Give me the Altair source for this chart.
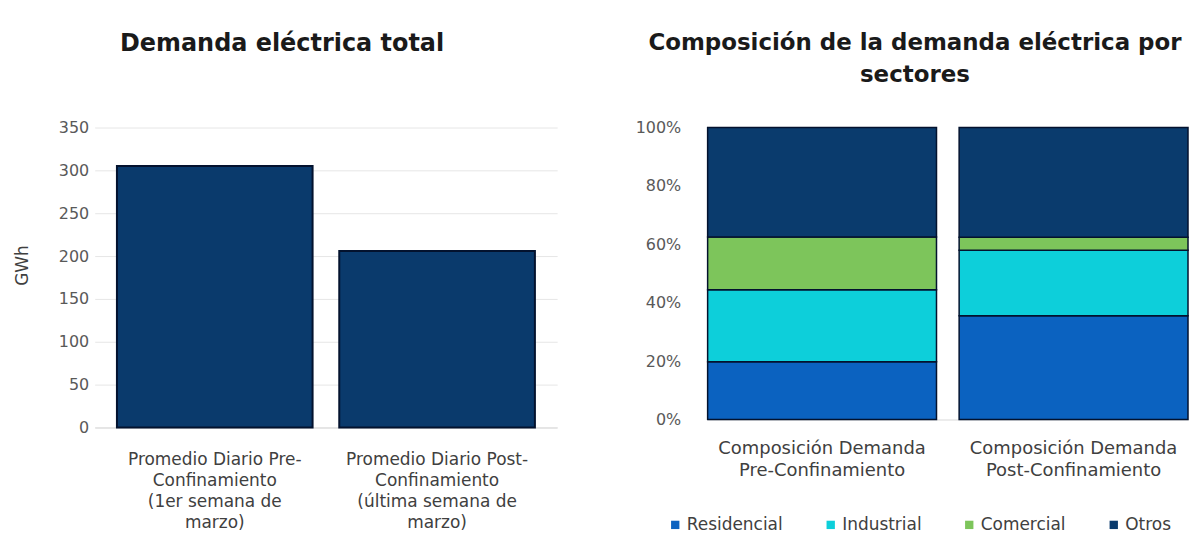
import altair as alt
import pandas as pd

# ---- Data: left panel (total daily demand, GWh) ----
periodos = [
    "Promedio Diario Pre-|Confinamiento|(1er semana de|marzo)",
    "Promedio Diario Post-|Confinamiento|(última semana de|marzo)",
]
demanda_gwh = [305, 206]
gwh_ticks = [0, 50, 100, 150, 200, 250, 300, 350]

# ---- Data: right panel (composition by sector, %) ----
composiciones = [
    "Composición Demanda|Pre-Confinamiento",
    "Composición Demanda|Post-Confinamiento",
]
sectores = ["Residencial", "Industrial", "Comercial", "Otros"]
pre_pct = [19.8, 24.6, 18.1, 37.5]
post_pct = [35.5, 22.5, 4.4, 37.6]
pct_ticks = [0, 0.2, 0.4, 0.6, 0.8, 1.0]
colores = ["#0b62c0", "#0dcfda", "#7dc55b", "#0a3b6d"]

FONT = "DejaVu Sans"

df_left = pd.DataFrame({"periodo": periodos, "gwh": demanda_gwh})

rows = []
for comp, vals in zip(composiciones, [pre_pct, post_pct]):
    for i, (s, v) in enumerate(zip(sectores, vals)):
        rows.append({"composicion": comp, "sector": s, "pct": v, "orden": i})
df_right = pd.DataFrame(rows)

left = alt.Chart(df_left).mark_bar(
    color="#0a3a6c", stroke="#03122e", strokeWidth=2
).encode(
    x=alt.X(
        "periodo:N",
        sort=periodos,
        scale=alt.Scale(paddingInner=0.12, paddingOuter=0.1),
        axis=alt.Axis(
            title=None, labelAngle=0, labelExpr="split(datum.label, '|')",
            labelFontSize=17, labelLineHeight=21, labelPadding=24,
            labelColor="#404040", labelLimit=0, ticks=False, grid=False,
            domainColor="#d9d9d9", labelFont=FONT,
        ),
    ),
    y=alt.Y(
        "gwh:Q",
        scale=alt.Scale(domain=[0, 350]),
        axis=alt.Axis(
            values=gwh_ticks, title="GWh", titleFontSize=17,
            titleFontWeight="normal", titleColor="#404040", titlePadding=27,
            titleY=138, titleFont=FONT, grid=True, gridColor="#e6e6e6",
            domain=False, ticks=False, labelFontSize=16,
            labelColor="#595959", labelPadding=6, labelFont=FONT,
        ),
    ),
).properties(
    width=464, height=301,
    view=alt.ViewBackground(stroke="transparent", strokeWidth=0),
    title=alt.TitleParams(
        "Demanda eléctrica total", fontSize=24, fontWeight="bold",
        color="#1a1a1a", offset=64, anchor="middle", dx=-44, font=FONT,
    ),
)

right = alt.Chart(df_right).mark_bar(stroke="#03122e", strokeWidth=1.5).encode(
    x=alt.X(
        "composicion:N",
        sort=composiciones,
        scale=alt.Scale(paddingInner=0.09, paddingOuter=0),
        axis=alt.Axis(
            title=None, labelAngle=0, labelExpr="split(datum.label, '|')",
            labelFontSize=18, labelLineHeight=22, labelPadding=20,
            labelColor="#404040", labelLimit=0, ticks=False, grid=False,
            domainColor="#d9d9d9", labelFont=FONT,
        ),
    ),
    y=alt.Y(
        "pct:Q",
        stack="normalize",
        scale=alt.Scale(domain=[0, 1]),
        axis=alt.Axis(
            values=pct_ticks, format=".0%", title=None, grid=False,
            domain=False, ticks=False, labelFontSize=16,
            labelColor="#595959", labelPadding=27, labelFont=FONT,
        ),
    ),
    color=alt.Color(
        "sector:N",
        sort=sectores,
        scale=alt.Scale(domain=sectores, range=colores),
        legend=alt.Legend(
            title=None, orient="none", direction="horizontal",
            legendX=-41, legendY=390, symbolType="square", symbolSize=70,
            symbolStrokeWidth=0, labelFontSize=17, labelColor="#404040",
            labelFont=FONT, columnPadding=39, labelOffset=3,
        ),
    ),
    order=alt.Order("orden:Q", sort="ascending"),
).properties(
    width=482, height=293,
    view=alt.ViewBackground(stroke="transparent", strokeWidth=0),
    title=alt.TitleParams(
        ["Composición de la demanda eléctrica por", "sectores"],
        fontSize=23, fontWeight="bold", color="#1a1a1a", offset=33,
        anchor="middle", dx=-33, lineHeight=32, font=FONT,
    ),
)

chart = alt.hconcat(left, right, spacing=151, bounds="flush").resolve_scale(
    color="independent"
).resolve_legend(color="independent").properties(
    padding={"left": 5, "top": 23, "right": 0, "bottom": 0}
).configure_view(stroke="transparent", strokeWidth=0).configure(background="white")

chart.save("out.html", embed_options={"renderer": "svg", "actions": False})
